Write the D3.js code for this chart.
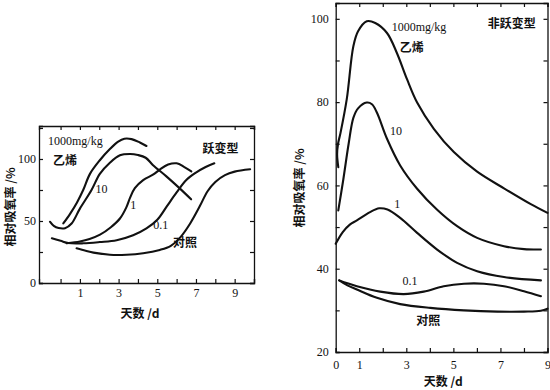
<!DOCTYPE html>
<html><head><meta charset="utf-8">
<script src="https://cdn.jsdelivr.net/npm/d3@7"></script>
<style>
body{margin:0;background:#fff;}
svg{display:block;}
.num{font-family:"Liberation Serif","Times New Roman",serif;font-size:12px;fill:#111;}
.cjk{font-family:"Noto Sans CJK SC",sans-serif;font-weight:bold;font-size:12px;fill:#111;}
</style>
</head><body>
<svg id="c" width="550" height="390"></svg>
<script>
// ---------- Left chart (跃变型) ----------
const leftXTicks = [0,1,2,3,4,5,6,7,8,9,10];
const leftXLabels = [1,3,5,7,9];
const leftYTicks = [0,25,50,75,100,125];
const leftYLabels = [0,50,100];
const leftEth1000 = [[0.14,48],[0.5,56],[0.85,65],[1.17,75],[1.52,88],[2.03,99],[2.55,108],[2.98,114],[3.3,116.3],[3.67,116],[4.1,113.3],[4.44,110.5]];
const leftEth10 = [[-0.55,49.4],[-0.35,46],[-0.1,44.3],[0.23,44.2],[0.57,48],[1.0,60],[1.6,75],[2.03,88],[2.55,97],[3.07,103],[3.6,104],[4.0,103.2],[4.4,101],[4.78,95],[5.47,86],[6.16,76.3],[6.75,67.5]];
const leftEth1 = [[0.32,32],[1.0,33.5],[1.5,35.5],[2.04,39],[2.6,45],[3.07,52],[3.4,61],[3.6,69],[3.84,76.5],[4.27,83],[4.8,87.5],[5.13,91.5],[5.56,95.5],[6.0,96.5],[6.4,93.5],[6.76,90]];
const leftEth01 = [[-0.45,36],[0,34],[0.4,32.2],[1.17,32],[2.03,33],[2.9,34.5],[3.75,38.5],[4.44,44],[5.0,51],[5.5,62],[6.0,73],[6.5,83],[7.0,89],[7.5,93.5],[7.95,96.5]];
const leftCtrl = [[0.83,28],[1.3,26],[1.7,24.5],[2.55,22.8],[3.41,22.8],[4.27,24],[5.13,26.7],[5.7,30],[6.2,37],[6.7,48],[7.2,62],[7.6,74],[8.0,81.5],[8.5,87],[9.0,89.8],[9.8,91.7]];

// ---------- Right chart (非跃变型) ----------
const rightXTicks = [0,1,2,3,4,5,6,7,8,9];
const rightXLabels = [0,1,3,5,7,9];
const rightYTicks = [20,30,40,50,60,70,80,90,100];
const rightYLabels = [20,40,60,80,100];
const rightEth1000 = [[0.11,64.4],[0.06,67.5],[0.1,70],[0.2,72.5],[0.47,80.7],[0.75,93.4],[0.95,97],[1.32,99.4],[1.68,99],[2.18,96.6],[2.6,91.8],[3.03,85.5],[3.46,79.9],[4.17,73.6],[5.02,68],[6.01,63.3],[7.15,59.3],[8.29,55.5],[9,53.4]];
const rightEth10 = [[0.11,54],[0.32,61.3],[0.55,70],[0.75,76.2],[0.95,78.5],[1.32,79.9],[1.54,79.5],[1.75,77.5],[2.18,71.2],[2.74,64.8],[3.46,59.2],[4.3,54.2],[5.16,50.2],[6.01,47.4],[7.15,45.4],[8,44.7],[8.72,44.6]];
const rightEth1 = [[0,46],[0.3,48.8],[0.6,50.6],[0.9,51.6],[1.46,53.6],[1.85,54.5],[2.2,54.2],[2.74,52.2],[3.46,48.6],[4.31,44.6],[5.16,41.4],[6.01,39.4],[7.15,38],[8.72,37.2]];
const rightEth01 = [[0.15,37.2],[0.5,36.5],[0.9,35.8],[1.89,34.5],[2.89,33.9],[3.74,34.5],[4.59,35.8],[5.45,36.4],[6.3,36.4],[7.15,35.8],[8,34.6],[8.72,33.4]];
const rightCtrl = [[0.15,37.2],[0.5,36],[0.9,35],[1.75,33],[2.74,31.5],[4.02,30.6],[5.45,30],[6.87,29.7],[8,29.7],[8.72,29.9],[9,30.4]];

const yTitle = "相对吸氧率 /%";
const xTitle = "天数 /d";

const svg = d3.select("#c");

function drawPanel(o){
  const g = svg.append("g");
  const x = d3.scaleLinear().domain(o.xd).range([o.l,o.r]);
  const y = d3.scaleLinear().domain(o.yd).range([o.b,o.t]);
  const fx = d => o.xLabels.includes(d) ? String(d) : "";
  const fy = d => o.yLabels.includes(d) ? String(d) : "";
  const ax = [
    g.append("g").attr("transform",`translate(0,${o.b})`).call(d3.axisBottom(x).tickValues(o.xTicks).tickSize(-4).tickPadding(o.xpad).tickFormat(fx)),
    g.append("g").attr("transform",`translate(0,${o.t})`).call(d3.axisTop(x).tickValues(o.xTicks).tickSize(-4).tickFormat("")),
    g.append("g").attr("transform",`translate(${o.l},0)`).call(d3.axisLeft(y).tickValues(o.yTicks).tickSize(-4).tickPadding(o.ypad).tickFormat(fy)),
    g.append("g").attr("transform",`translate(${o.r},0)`).call(d3.axisRight(y).tickValues(o.yTicks).tickSize(-4).tickFormat(""))
  ];
  ax.forEach(a=>{
    a.select(".domain").attr("stroke","#111").attr("stroke-width",1.3);
    a.selectAll(".tick line").attr("stroke","#111").attr("stroke-width",1.2);
    a.selectAll("text").attr("class","num").attr("font-size",null).attr("font-family",null);
  });
  const line = d3.line().x(d=>x(d[0])).y(d=>y(d[1])).curve(d3.curveCatmullRom.alpha(0.5));
  o.series.forEach(s=>{
    g.append("path").attr("d",line(s)).attr("fill","none").attr("stroke","#111").attr("stroke-width",2.1).attr("stroke-linecap","round");
  });
  o.texts.forEach(t=>{
    g.append("text").attr("class",t.c).attr("x",t.x).attr("y",t.y).attr("text-anchor",t.a||"start").attr("dominant-baseline","middle").text(t.s);
  });
  g.append("text").attr("class","cjk").attr("font-size",13).attr("x",o.xtx).attr("y",o.xty).attr("text-anchor","middle").attr("dominant-baseline","middle").text(xTitle);
  g.append("text").attr("class","cjk").attr("font-size",11).attr("transform",`translate(${o.ytx},${o.yty}) rotate(-90)`).attr("text-anchor","middle").attr("dominant-baseline","middle").text(yTitle);
}

drawPanel({
  l:39,r:254,t:126,b:283,xd:[-1.115,10],yd:[0,126.6],
  xTicks:leftXTicks,xLabels:leftXLabels,yTicks:leftYTicks,yLabels:leftYLabels,
  xpad:5,ypad:3,
  series:[leftEth1000,leftEth10,leftEth1,leftEth01,leftCtrl],
  texts:[
    {s:"1000mg/kg",x:48,y:142.5,c:"num"},
    {s:"乙烯",x:53,y:161.5,c:"cjk"},
    {s:"10",x:101.5,y:190,c:"num",a:"middle"},
    {s:"1",x:133.3,y:206,c:"num",a:"middle"},
    {s:"0.1",x:160.7,y:226.7,c:"num",a:"middle"},
    {s:"对照",x:185,y:244,c:"cjk",a:"middle"},
    {s:"跃变型",x:220.5,y:150,c:"cjk",a:"middle"}
  ],
  xtx:140,xty:315,ytx:12,yty:207
});

drawPanel({
  l:335.7,r:547.5,t:3,b:352,xd:[0,9],yd:[20,103.8],
  xTicks:rightXTicks,xLabels:rightXLabels,yTicks:rightYTicks,yLabels:rightYLabels,
  xpad:8,ypad:7,
  series:[rightEth1000,rightEth10,rightEth1,rightEth01,rightCtrl],
  texts:[
    {s:"1000mg/kg",x:391.7,y:28.3,c:"num"},
    {s:"乙烯",x:411.7,y:48.3,c:"cjk",a:"middle"},
    {s:"10",x:396,y:132.7,c:"num",a:"middle"},
    {s:"1",x:397.3,y:205,c:"num",a:"middle"},
    {s:"0.1",x:410,y:282.7,c:"num",a:"middle"},
    {s:"对照",x:428.3,y:321.7,c:"cjk",a:"middle"},
    {s:"非跃变型",x:511.7,y:25,c:"cjk",a:"middle"}
  ],
  xtx:443.3,xty:382.7,ytx:301,yty:188
});
</script>
</body></html>
